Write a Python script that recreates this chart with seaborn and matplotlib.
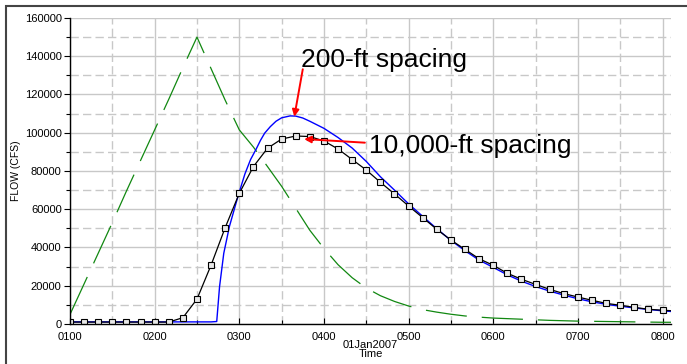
"""Flow hydrographs: inflow vs routed flow for two reach spacings."""

import matplotlib
matplotlib.use("Agg")
import matplotlib.pyplot as plt
import matplotlib.dates as mdates
from matplotlib.patches import Rectangle
from matplotlib.ticker import MultipleLocator
import seaborn as sns
import pandas as pd

# Inflow hydrograph (green dashed), 10-min steps from 0100
inflow_times = ["01:00", "01:10", "01:20", "01:30", "01:40", "01:50", "02:00", "02:10",
                "02:20", "02:30", "02:40", "02:50", "03:00", "03:10", "03:20", "03:30",
                "03:40", "03:50", "04:00", "04:10", "04:20", "04:30", "04:40", "04:50",
                "05:00", "05:10", "05:20", "05:30", "05:40", "05:50", "06:00", "06:10",
                "06:20", "06:30", "06:40", "06:50", "07:00", "07:10", "07:20", "07:30",
                "07:40", "07:50", "08:00", "08:10"]
inflow = [5000, 21000, 37000, 53000, 69500, 85500, 101500, 117500,
          134000, 150000, 133500, 117000, 101500, 92500, 82300, 72000,
          60500, 49000, 39500, 31000, 24200, 18800, 14800, 11800,
          9400, 7500, 6200, 5100, 4200, 3600, 3100, 2800,
          2500, 2200, 1900, 1700, 1500, 1400, 1300, 1200,
          1100, 1000, 900, 900]

# 10,000-ft spacing (black, square markers), same 10-min steps
coarse_times = inflow_times
coarse_flow = [1000, 1000, 1000, 1000, 1000, 1000, 1000, 1000,
               3300, 13000, 30800, 50400, 68300, 82300, 91900, 96700,
               98300, 98000, 95700, 91500, 86000, 80500, 74100, 68000,
               61700, 55600, 49500, 43900, 39000, 34100, 30700, 26500,
               23400, 20700, 18100, 15900, 14100, 12400, 10800, 9800,
               8700, 7700, 7200, 6800]

# 200-ft spacing (blue)
fine_times = ["01:00", "02:40", "02:44", "02:46", "02:49", "02:53", "02:58", "03:00",
              "03:04", "03:08", "03:12", "03:15", "03:18", "03:22", "03:26", "03:30",
              "03:36", "03:40", "03:45", "03:50", "04:00", "04:10", "04:20", "04:30",
              "04:40", "04:50", "05:00", "05:10", "05:20", "05:30", "05:40", "05:50",
              "06:00", "06:10", "06:20", "06:30", "06:40", "06:50", "07:00", "07:10",
              "07:20", "07:30", "07:40", "07:50", "08:00", "08:10"]
fine_flow = [1100, 1100, 1300, 19500, 37000, 51000, 64000, 69000,
             78500, 86000, 91500, 96000, 99800, 103200, 106000, 107800,
             108800, 108700, 107700, 106000, 102300, 97500, 92000, 85000,
             77000, 70000, 62800, 56300, 49800, 43700, 38300, 33400,
             29600, 25700, 22400, 19600, 17200, 15100, 13200, 11600,
             10300, 9300, 8400, 7600, 6900, 6300]


def to_dt(times):
    return pd.to_datetime(["2007-01-01 " + t for t in times])


inflow_df = pd.DataFrame({"time": to_dt(inflow_times), "flow": inflow})
coarse_df = pd.DataFrame({"time": to_dt(coarse_times), "flow": coarse_flow})
fine_df = pd.DataFrame({"time": to_dt(fine_times), "flow": fine_flow})

sns.set_style("white")
plt.rcParams["font.family"] = ["Liberation Sans", "DejaVu Sans"]
for key in ["text.color", "axes.labelcolor", "xtick.color", "ytick.color"]:
    plt.rcParams[key] = "black"

fig = plt.figure(figsize=(6.87, 3.64), dpi=100)
ax = fig.add_axes([0.1019, 0.1099, 0.8748, 0.8407])

sns.lineplot(data=inflow_df, x="time", y="flow", ax=ax, color="#118811",
             lw=0.9, linestyle=(0, (33, 12)))
sns.lineplot(data=fine_df, x="time", y="flow", ax=ax, color="#0000ff", lw=1.0)
sns.lineplot(data=coarse_df, x="time", y="flow", ax=ax, color="black", lw=0.9,
             marker="s", markersize=3.8, markerfacecolor="#e8e8e8",
             markeredgecolor="black", markeredgewidth=0.8)

ax.set_xlim(pd.Timestamp("2007-01-01 01:00"), pd.Timestamp("2007-01-01 08:06"))
ax.set_ylim(0, 160000)

ax.xaxis.set_major_locator(mdates.HourLocator())
ax.xaxis.set_minor_locator(mdates.MinuteLocator(byminute=[30]))
ax.xaxis.set_major_formatter(mdates.DateFormatter("%H%M"))
ax.yaxis.set_major_locator(MultipleLocator(20000))
ax.yaxis.set_minor_locator(MultipleLocator(10000))

ax.grid(which="major", color="#c8c8c8", lw=1.0, ls="-")
ax.grid(which="minor", color="#c8c8c8", lw=1.0, ls=(0, (6, 3)))
ax.set_axisbelow(True)

for side in ["top", "right"]:
    ax.spines[side].set_visible(False)
for side in ["left", "bottom"]:
    ax.spines[side].set_color("black")
    ax.spines[side].set_linewidth(1.0)

ax.tick_params(axis="both", which="major", labelsize=8, colors="black", length=4,
               width=0.8, pad=2)
ax.tick_params(axis="x", which="both", direction="in", bottom=True)
ax.tick_params(axis="x", which="major", pad=5.5)
ax.tick_params(axis="y", which="both", direction="out", left=True)
ax.tick_params(axis="both", which="minor", length=3, width=0.8)

ax.set_xlabel("01Jan2007\nTime", fontsize=8, labelpad=-1, linespacing=0.85)
ax.set_ylabel("FLOW (CFS)", fontsize=7.5, labelpad=3)

# Labels with red arrows
ax.text(pd.Timestamp("2007-01-01 03:44"), 134500, "200-ft spacing", fontsize=19,
        ha="left", va="baseline")
ax.text(pd.Timestamp("2007-01-01 04:32"), 89300, "10,000-ft spacing", fontsize=19,
        ha="left", va="baseline")
arrow = dict(arrowstyle="-|>", color="red", lw=1.4, mutation_scale=10, shrinkA=0, shrinkB=0)
ax.annotate("", xy=(pd.Timestamp("2007-01-01 03:39"), 108400),
            xytext=(pd.Timestamp("2007-01-01 03:45"), 133200), arrowprops=arrow)
ax.annotate("", xy=(pd.Timestamp("2007-01-01 03:46"), 96700),
            xytext=(pd.Timestamp("2007-01-01 04:29"), 94800), arrowprops=arrow)

# Outer frame of the original window
fig.patches.append(Rectangle((6 / 687, -0.1), 1.1, 1.1 - 6 / 364, transform=fig.transFigure,
                             fill=False, edgecolor="#444444", lw=1.5))

fig.savefig("out.png", dpi=100)
